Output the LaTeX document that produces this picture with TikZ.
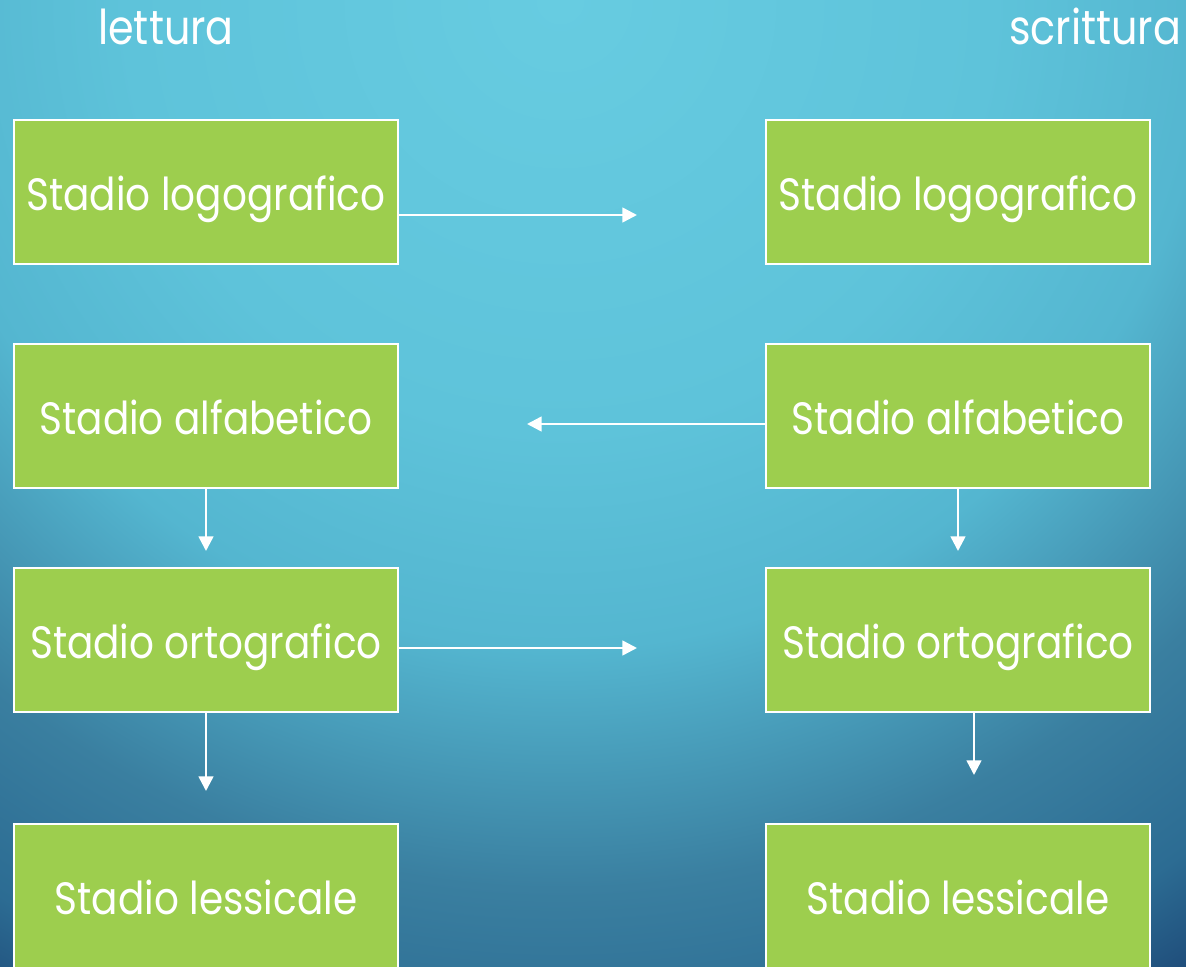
\documentclass[tikz,border=0pt]{standalone}
\usepackage{fontspec}
\setmainfont{Poppins}[FakeStretch=0.86]
\usetikzlibrary{arrows.meta}
\definecolor{boxgreen}{HTML}{9DCE4E}
\definecolor{bgA}{HTML}{67CCE1}
\definecolor{bgB}{HTML}{5EC3DA}
\definecolor{bgC}{HTML}{54B6D0}
\definecolor{bgD}{HTML}{3A7FA0}
\definecolor{bgE}{HTML}{2C6C93}
\definecolor{bgF}{HTML}{1E4A78}
\pgfdeclareradialshading{bgshade}{\pgfpoint{0bp}{0bp}}{%
  color(0bp)=(bgA); color(9bp)=(bgB); color(13.5bp)=(bgC); color(18.5bp)=(bgD);
  color(22bp)=(bgE); color(24.25bp)=(bgF); color(25bp)=(bgF); color(50bp)=(bgF)}
\tikzset{
  stagebox/.style={draw=white, line width=1.6pt, fill=boxgreen,
    minimum width=288pt, minimum height=108pt, inner sep=0pt,
    text height=30pt, text depth=3pt,
    text=white, font=\fontsize{34}{38}\selectfont},
  header/.style={text=white, font=\fontsize{36}{40}\selectfont, inner sep=0pt, anchor=base},
  arr/.style={draw=white, line width=1.9pt,
    -{Triangle[length=11pt,width=11pt]}}
}
\begin{document}
\begin{tikzpicture}[x=0.75pt,y=-0.75pt]
\useasboundingbox (0,0) rectangle (1186,967);
\begin{scope}
  \clip (0,0) rectangle (1186,967);
  \shade[shading=bgshade] (-640,-1200) rectangle (1760,1200);
\end{scope}
\node[header] (lettura) at (166,44) {lettura};
\node[header] (scrittura) at (1095,44) {scrittura};

\begin{scope}
\clip (0,0) rectangle (1186,967);
\node[stagebox] (l1) at (206,192) {Stadio logografico};
\node[stagebox] (l2) at (206,416) {Stadio alfabetico};
\node[stagebox] (l3) at (206,640) {Stadio ortografico};
\node[stagebox] (l4) at (206,896) {Stadio lessicale};
\node[stagebox] (r1) at (958,192) {Stadio logografico};
\node[stagebox] (r2) at (958,416) {Stadio alfabetico};
\node[stagebox] (r3) at (958,640) {Stadio ortografico};
\node[stagebox] (r4) at (958,896) {Stadio lessicale};
\end{scope}

\coordinate (a1) at (637,215);
\coordinate (a2) at (527,424);
\coordinate (a3) at (206,551);
\coordinate (a4) at (958,551);
\coordinate (a5) at (637,648);
\coordinate (a6) at (206,791);
\coordinate (a7) at (974,775);

\draw[arr] (l1.east |- a1) -- (a1);
\draw[arr] (r2.west |- a2) -- (a2);
\draw[arr] (l2.south) -- (a3);
\draw[arr] (r2.south) -- (a4);
\draw[arr] (l3.east |- a5) -- (a5);
\draw[arr] (l3.south) -- (a6);
\draw[arr] (r3.south -| a7) -- (a7);
\end{tikzpicture}
\end{document}
